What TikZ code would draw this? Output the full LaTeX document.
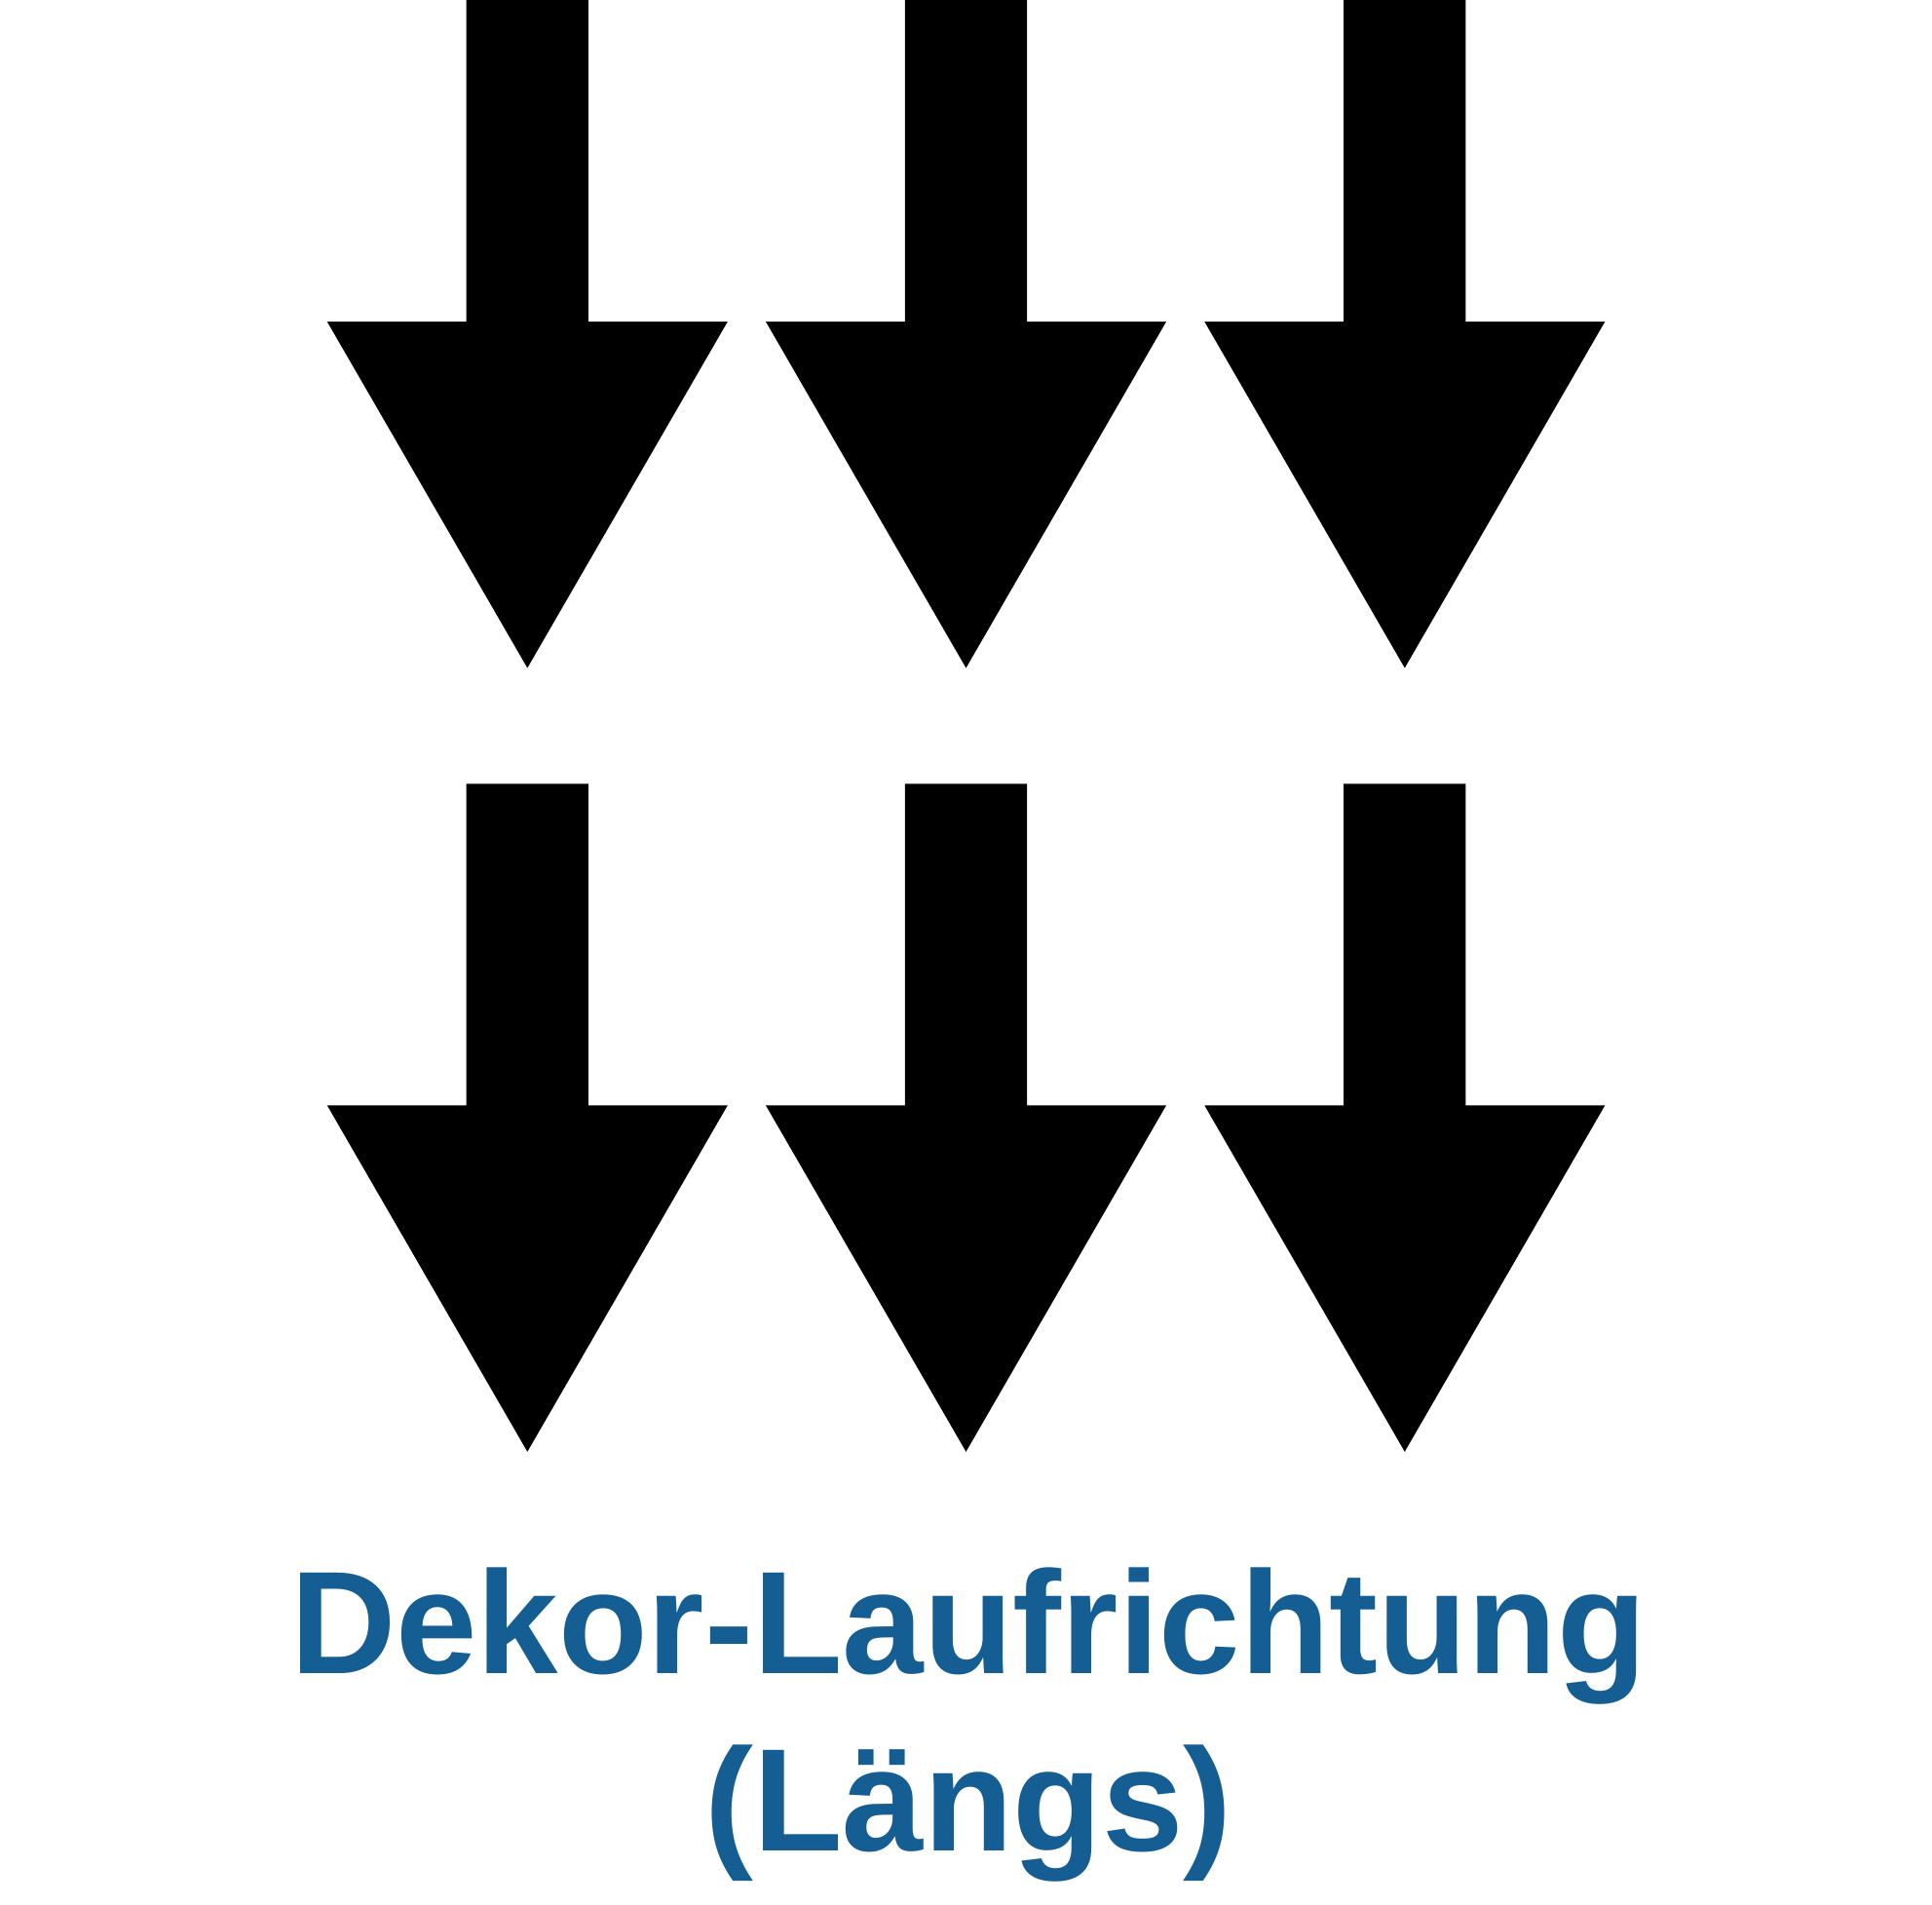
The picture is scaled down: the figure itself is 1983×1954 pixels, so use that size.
\documentclass[tikz,border=0pt]{standalone}
\usepackage{fontspec}
\newfontfamily\arialfont{Liberation Sans}
\definecolor{dekorblue}{RGB}{20,94,148}
\tikzset{
  arrowfill/.style={fill=black},
  labeltext/.style={text=dekorblue, font=\arialfont\bfseries\fontsize{150}{181}\selectfont, anchor=base, inner sep=0pt}
}
\begin{document}
\begin{tikzpicture}[x=1pt,y=-1pt]
\useasboundingbox (0,0) rectangle (1983,1954);
\foreach \cx in {541.3,991.5,1441.8}{
  % top row
  \fill[arrowfill] (\cx-62.6,0) -- (\cx+62.6,0) -- (\cx+62.6,330.1) -- (\cx+205.5,330.1)
     -- (\cx,685.5) -- (\cx-205.5,330.1) -- (\cx-62.6,330.1) -- cycle;
  % bottom row
  \fill[arrowfill] (\cx-62.6,804.3) -- (\cx+62.6,804.3) -- (\cx+62.6,1134.4) -- (\cx+205.5,1134.4)
     -- (\cx,1489.8) -- (\cx-205.5,1134.4) -- (\cx-62.6,1134.4) -- cycle;
}
\node[labeltext] (line1) at (994,1717) {Dekor-Laufrichtung};
\node[labeltext] (line2) at (994,1899) {(Längs)};
\end{tikzpicture}
\end{document}
